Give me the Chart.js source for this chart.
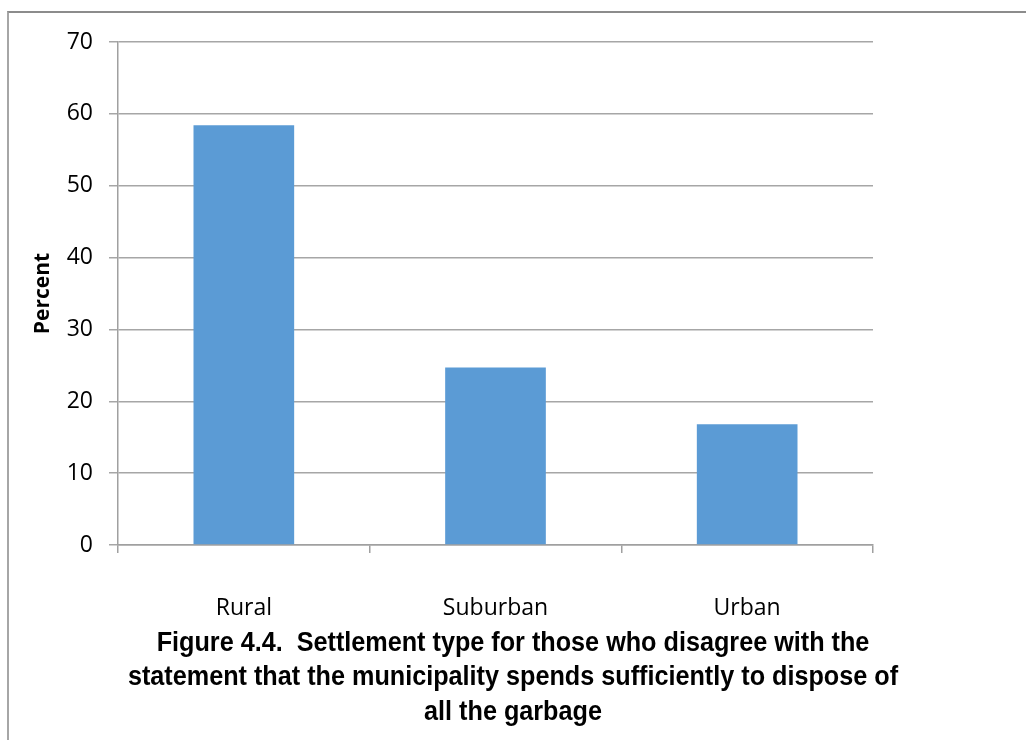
<!DOCTYPE html>
<html>
<head>
<meta charset="utf-8">
<script src="https://cdn.jsdelivr.net/npm/chart.js@4/dist/chart.umd.min.js"></script>
<style>
  html, body { margin: 0; padding: 0; background: #fff; }
  #wrap { position: relative; width: 1026px; height: 740px; }
  #frame { position: absolute; left: 7px; top: 11px; right: 0; bottom: 0; border-top: 2px solid #8c8c8c; border-left: 2px solid #a6a6a6; }
  canvas { position: absolute; left: 0; top: 0; }
</style>
</head>
<body>
<div id="wrap">
  <div id="frame"></div>
  <canvas id="chart" width="1026" height="740"></canvas>
</div>
<script>
const categories = ["Rural", "Suburban", "Urban"];
const percentValues = [58.4, 24.7, 16.8];
const yTicks = [0, 10, 20, 30, 40, 50, 60, 70];
const titleLines = [
  "Figure 4.4.  Settlement type for those who disagree with the",
  "statement that the municipality spends sufficiently to dispose of",
  "all the garbage"
];

const tickFont = { family: "'Open Sans', 'Noto Sans', sans-serif", size: 23 };

// caption under the chart, centred on the page, narrowed to look like Arial Narrow
const captionPlugin = {
  id: "caption",
  afterDraw(chart) {
    const c = chart.ctx;
    c.save();
    c.font = "bold 28px 'Liberation Sans', Arial, sans-serif";
    c.fillStyle = "#000";
    c.textAlign = "center";
    c.textBaseline = "middle";
    c.translate(chart.width / 2, 0);
    c.scale(0.9, 1);
    titleLines.forEach((line, i) => {
      c.fillText(line, 0, 643 + i * 34.5);
    });
    c.restore();
  }
};

new Chart(document.getElementById("chart"), {
  type: "bar",
  data: {
    labels: categories,
    datasets: [{
      data: percentValues,
      backgroundColor: "#5b9bd5",
      borderWidth: 0,
      barPercentage: 0.4,
      categoryPercentage: 1.0
    }]
  },
  options: {
    responsive: false,
    animation: false,
    layout: { padding: { top: 42, left: 30, right: 153, bottom: 115 } },
    plugins: {
      legend: { display: false },
      tooltip: { enabled: false },
      title: { display: false }
    },
    scales: {
      x: {
        grid: { display: true, drawOnChartArea: false, drawTicks: true, tickLength: 8, color: "#a0a0a0", lineWidth: 1.5 },
        border: { color: "#a0a0a0", width: 1.5 },
        ticks: { color: "#000", font: tickFont, padding: 42 },
        afterFit: (s) => { s.height = 80; }
      },
      y: {
        min: 0,
        max: 70,
        afterBuildTicks: (s) => { s.ticks = yTicks.map(v => ({ value: v })); },
        grid: { color: "#a6a6a6", lineWidth: 1.5, tickLength: 9 },
        border: { color: "#a0a0a0", width: 1.5 },
        ticks: { color: "#000", font: tickFont, padding: 16 },
        title: {
          display: true,
          text: "Percent",
          color: "#000",
          font: { family: "'Open Sans', 'Noto Sans', sans-serif", size: 21, weight: "bold" },
          padding: { top: 0, bottom: 0 }
        },
        afterFit: (s) => { s.width = 88; }
      }
    }
  },
  plugins: [captionPlugin]
});
</script>
</body>
</html>
